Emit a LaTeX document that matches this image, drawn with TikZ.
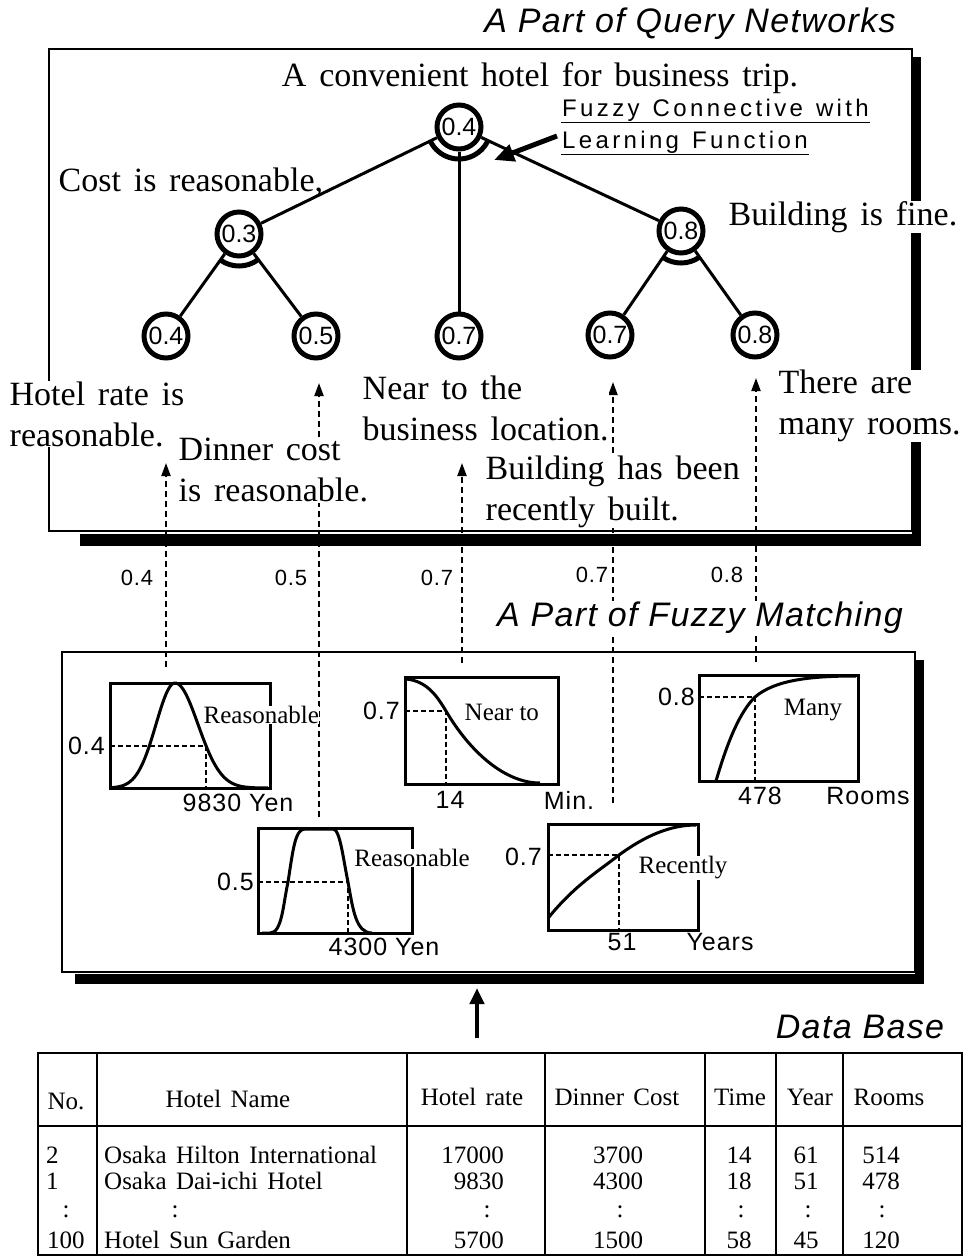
\documentclass[tikz,border=0pt]{standalone}
\usepackage{fontspec}
\setmainfont{Liberation Serif}
\newfontfamily\tser[WordSpace=1.6]{Liberation Serif}
\newfontfamily\tabf[WordSpace=1.5]{Liberation Serif}
\newfontfamily\hsan[LetterSpace=4]{Liberation Sans}
\newfontfamily\hsanw[LetterSpace=14,WordSpace=1.3]{Liberation Sans}
\newfontfamily\hsn{Liberation Sans}
\usetikzlibrary{arrows.meta}
\begin{document}
\begin{tikzpicture}[x=1pt,y=-1pt,
  nd/.style={circle, draw, line width=5pt, minimum size=44pt, inner sep=0pt, fill=white, font=\hsn\fontsize{25}{25}\selectfont},
  fz/.style={line width=5pt},
  edge/.style={line width=3pt},
  lbl/.style={font=\tser\fontsize{34}{41}\selectfont, align=left, anchor=west, inner sep=0.5pt, fill=white},
  darr/.style={line width=2pt, dash pattern=on 6pt off 4pt, -{Triangle[length=13pt,width=9pt]}},
  box/.style={line width=2.5pt},
  gbox/.style={line width=3pt},
  curve/.style={line width=3pt},
  gdash/.style={line width=2pt, dash pattern=on 5pt off 3pt},
  sl/.style={font=\hsan\fontsize{22}{22}\selectfont, inner sep=0pt},
  gsl/.style={font=\hsan\fontsize{25}{25}\selectfont, inner sep=0pt},
  gl/.style={font=\rmfamily\fontsize{25}{25}\selectfont, inner sep=0.5pt},
  ttl/.style={font=\hsan\itshape\fontsize{34}{34}\selectfont, inner sep=1pt, fill=white},
  fzl/.style={font=\hsanw\fontsize{24}{24}\selectfont, inner sep=1pt, anchor=west},
  tab/.style={font=\tabf\fontsize{25}{25}\selectfont, inner sep=0pt},
  tabl/.style={line width=2.5pt}
]
\useasboundingbox (0,0) rectangle (964,1258);

% ---------- boxes with shadows ----------
\fill (80,534) rectangle (921,546);
\fill (912,57) rectangle (921,546);
\draw[box] (49,49) rectangle (912,531);
\fill (75,974) rectangle (924,984);
\fill (915,660) rectangle (924,984);
\draw[box] (62,652) rectangle (915,972);

% ---------- dashed arrows ----------
\coordinate (a1s) at (166,667); \coordinate (a1t) at (166,463);
\coordinate (a2s) at (319,817); \coordinate (a2t) at (319,383);
\coordinate (a3s) at (462,663); \coordinate (a3t) at (462,463);
\coordinate (a4s) at (613,803); \coordinate (a4t) at (613,382);
\coordinate (a5s) at (756,662); \coordinate (a5t) at (756,378);
\draw[darr] (a1s) -- (a1t);
\draw[darr] (a2s) -- (a2t);
\draw[darr] (a3s) -- (a3t);
\draw[darr] (a4s) -- (a4t);
\draw[darr] (a5s) -- (a5t);

\node[sl] (v1) at (137,578) {0.4};
\node[sl] (v2) at (291,578) {0.5};
\node[sl] (v3) at (437,578) {0.7};
\node[sl] (v4) at (592,575) {0.7};
\node[sl] (v5) at (727,575) {0.8};

% ---------- titles ----------
\node[ttl] (tq) at (690,24) {A Part of Query Networks};
\node[ttl] (tf) at (700,618) {A Part of Fuzzy Matching};
\node[ttl] (tdb) at (860,1027) {Data Base};

% ---------- graph 1 : Reasonable (hotel rate) ----------
\draw[gbox] (110,683) rectangle (270,788);
\draw[curve] plot[domain=112:175, samples=50] (\x, {788-105*exp(-(\x-175)^2/722)})
  -- plot[domain=175:268, samples=60] (\x, {788-105*exp(-(\x-175)^2/1058)});
\draw[gdash] (110,746) -- (206,746) -- (206,788);
\node[gl, fill=white, anchor=west] (g1l) at (203,715) {Reasonable};
\node[gsl, anchor=east] (g1y) at (105,746) {0.4};
\node[gsl] (g1x) at (238,803) {9830 Yen};

% ---------- graph 2 : Near to ----------
\draw[gbox] (405,677) rectangle (558,784);
\draw[curve] (406,679) .. controls (428,681) and (438,698) .. (446,711)
  .. controls (470,752) and (505,783) .. (540,783);
\draw[gdash] (405,711) -- (446,711) -- (446,784);
\node[gl, anchor=west] (g2l) at (464,712) {Near to};
\node[gsl, anchor=east] (g2y) at (400,711) {0.7};
\node[gsl] (g2x) at (450,800) {14};
\node[gsl] (g2u) at (569,800) {Min.};

% ---------- graph 3 : Many ----------
\draw[gbox] (699,675) rectangle (858,781);
\draw[curve] (716,781) .. controls (728,740) and (740,712) .. (755,697)
  .. controls (775,680) and (810,676) .. (856,676);
\draw[gdash] (699,697) -- (755,697) -- (755,781);
\node[gl] (g3l) at (813,710) {Many};
\node[gsl, anchor=east] (g3y) at (695,697) {0.8};
\node[gsl] (g3x) at (760,796) {478};
\node[gsl] (g3u) at (868,796) {Rooms};

% ---------- graph 4 : Reasonable (dinner) ----------
\draw[gbox] (258,828) rectangle (412,933);
\draw[curve] (262,933) -- (270,933) .. controls (282,933) and (283,905) .. (288,882)
  .. controls (293,850) and (295,829) .. (305,829) -- (333,829)
  .. controls (340,829) and (343,858) .. (348,882)
  .. controls (353,910) and (356,933) .. (372,933);
\draw[gdash] (258,882) -- (348,882) -- (348,933);
\node[gl, fill=white] (g4l) at (412,858) {Reasonable};
\node[gsl, anchor=east] (g4y) at (254,882) {0.5};
\node[gsl] (g4x) at (384,947) {4300 Yen};

% ---------- graph 5 : Recently ----------
\draw[gbox] (548,824) rectangle (698,930);
\draw[curve] (549,917) .. controls (575,885) and (600,870) .. (619,855)
  .. controls (645,836) and (670,825) .. (696,825);
\draw[gdash] (548,855) -- (619,855) -- (619,930);
\node[gl, fill=white] (g5l) at (683,868) {Recently};
\node[gsl, anchor=east] (g5y) at (542,857) {0.7};
\node[gsl] (g5x) at (622,942) {51};
\node[gsl] (g5u) at (720,942) {Years};

% ---------- arrow from data base ----------
\coordinate (dbs) at (477,1038);
\coordinate (dbt) at (477,988);
\draw[line width=4.5pt, -{Triangle[length=16pt,width=14pt]}] (dbs) -- (dbt);

% ---------- tree labels ----------
\node[lbl, anchor=center] (top) at (540,78) {A convenient hotel for business trip.};
\node[lbl] (tcost) at (58,182) {Cost is reasonable,};
\node[lbl] (tbld) at (728,217) {Building is fine.};
\node[lbl] (thot) at (9,414) {Hotel rate is\\reasonable.};
\node[lbl] (tdin) at (178,470) {Dinner cost\\is reasonable.};
\node[lbl] (tnear) at (362,408) {Near to the\\business location.};
\node[lbl] (tnew) at (485,492) {Building has been\\recently built.};
\node[lbl] (trooms) at (778,406) {There are\\many rooms.};

% fuzzy connective label
\node[fzl] (fc1) at (561,110) {Fuzzy Connective with};
\node[fzl] (fc2) at (561,142) {Learning Function};
\draw[line width=1.6pt] (fc1.south west) -- (fc1.south east);
\draw[line width=1.6pt] (fc2.south west) -- (fc2.south east);

% ---------- tree ----------
\node[nd] (root) at (459,127) {0.4};
\node[nd] (n03) at (239,234) {0.3};
\node[nd] (n08) at (681,231) {0.8};
\node[nd] (l1) at (166,336) {0.4};
\node[nd] (l2) at (316,336) {0.5};
\node[nd] (l3) at (459,336) {0.7};
\node[nd] (l4) at (610,335) {0.7};
\node[nd] (l5) at (755,335) {0.8};

\draw[edge] (root) -- (n03);
\draw[edge] (root) -- (n08);
\draw[edge] (root) -- (l3);
\draw[edge] (n03) -- (l1);
\draw[edge] (n03) -- (l2);
\draw[edge] (n08) -- (l4);
\draw[edge] (n08) -- (l5);

\draw[fz] (root.center) ++(207:32pt) arc[start angle=207, end angle=333, radius=32pt];
\draw[fz] (n03.center) ++(235:32pt) arc[start angle=235, end angle=306, radius=32pt];
\draw[fz] (n08.center) ++(236:32pt) arc[start angle=236, end angle=305, radius=32pt];

\coordinate (fzs) at (557,136);
\coordinate (fzt) at (494,160);
\draw[line width=5pt, -{Triangle[length=20pt,width=17pt]}] (fzs) -- (fzt);

% ---------- table ----------
\draw[tabl] (38,1053) rectangle (962,1255);
\foreach \cx in {97,407,545,705,776,843} \draw[tabl] (\cx,1053) -- (\cx,1255);
\draw[tabl] (38,1126) -- (962,1126);

\node[tab] (hno) at (66,1101) {No.};
\node[tab] (hname) at (228,1099) {Hotel Name};
\node[tab] (hrate) at (472,1097) {Hotel rate};
\node[tab] (hdin) at (617,1097) {Dinner Cost};
\node[tab] (htime) at (740,1097) {Time};
\node[tab] (hyear) at (810,1097) {Year};
\node[tab] (hrooms) at (889,1097) {Rooms};

\node[tab, anchor=west] (r1a) at (46,1155) {2};
\node[tab, anchor=west] (r1b) at (104,1155) {Osaka Hilton International};
\node[tab, anchor=east] (r1c) at (504,1155) {17000};
\node[tab] (r1d) at (618,1155) {3700};
\node[tab] (r1e) at (739,1155) {14};
\node[tab] (r1f) at (806,1155) {61};
\node[tab] (r1g) at (881,1155) {514};

\node[tab, anchor=west] (r2a) at (46,1181) {1};
\node[tab, anchor=west] (r2b) at (104,1181) {Osaka Dai-ichi Hotel};
\node[tab, anchor=east] (r2c) at (504,1181) {9830};
\node[tab] (r2d) at (618,1181) {4300};
\node[tab] (r2e) at (739,1181) {18};
\node[tab] (r2f) at (806,1181) {51};
\node[tab] (r2g) at (881,1181) {478};

\node[tab] (r3a) at (66,1212) {:};
\node[tab] (r3b) at (175,1212) {:};
\node[tab] (r3c) at (487,1212) {:};
\node[tab] (r3d) at (620,1212) {:};
\node[tab] (r3e) at (741,1212) {:};
\node[tab] (r3f) at (808,1212) {:};
\node[tab] (r3g) at (882,1212) {:};

\node[tab, anchor=west] (r4a) at (47,1240) {100};
\node[tab, anchor=west] (r4b) at (104,1240) {Hotel Sun Garden};
\node[tab, anchor=east] (r4c) at (504,1240) {5700};
\node[tab] (r4d) at (618,1240) {1500};
\node[tab] (r4e) at (739,1240) {58};
\node[tab] (r4f) at (806,1240) {45};
\node[tab] (r4g) at (881,1240) {120};
\end{tikzpicture}
\end{document}
